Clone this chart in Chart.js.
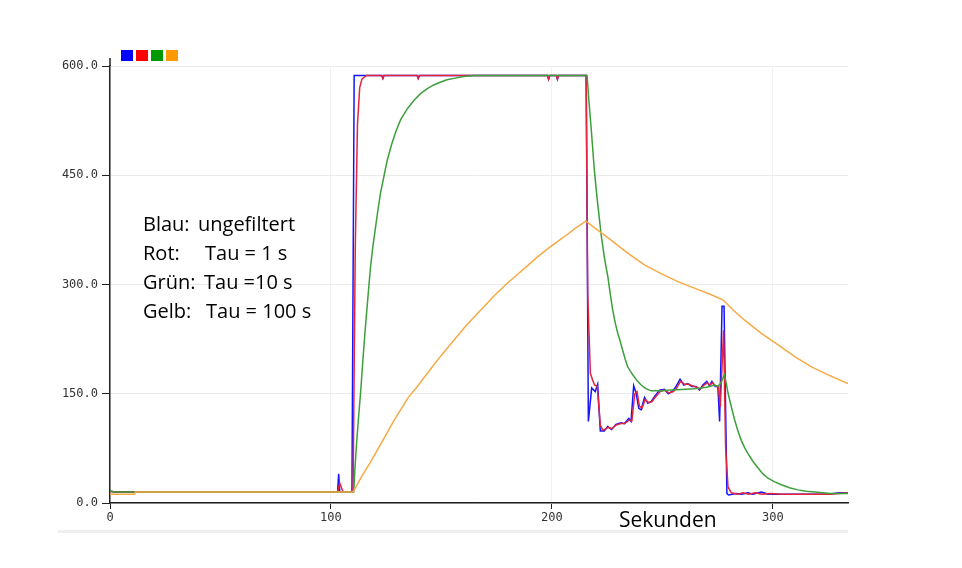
<!DOCTYPE html>
<html>
<head>
<meta charset="utf-8">
<script src="https://cdn.jsdelivr.net/npm/chart.js@4.4.1/dist/chart.umd.min.js"></script>
<style>
  html, body { margin: 0; padding: 0; background: #fff; }
  #wrap { position: relative; width: 962px; height: 568px; }
  #wrap canvas { position: absolute; left: 0; top: 0; }
  .note { position: absolute; font-family: "Open Sans", sans-serif; color: #000; white-space: nowrap; }
  .notes { left: 143px; top: 209px; font-size: 20px; line-height: 29px; }
  .notes div { position: relative; height: 29px; }
  .notes span.v { position: absolute; top: 0; }
  #xlabel { left: 619px; top: 505px; font-size: 21px; line-height: 28px; }
  #sep { position: absolute; left: 58px; top: 530px; width: 790px; height: 3px; background: #efefef; }
</style>
</head>
<body>
<div id="wrap">
  <div id="sep"></div>
  <canvas id="filterChart" width="962" height="568"></canvas>
  <div class="note notes"><div>Blau:<span class="v" style="left:55px">ungefiltert</span></div><div>Rot:<span class="v" style="left:62px">Tau = 1 s</span></div><div>Grün:<span class="v" style="left:61px">Tau =10 s</span></div><div>Gelb:<span class="v" style="left:63px">Tau = 100 s</span></div></div>
  <div class="note" id="xlabel">Sekunden</div>
</div>
<script>
// zeit in sekunden
const blauT = [0, 2, 103, 103.5, 104, 109.5, 110.5, 123, 123.5, 124, 139, 139.5, 140, 198, 198.5, 199, 202, 202.5, 203,
  215.5, 216.5, 218, 219.6, 220.7, 221.9, 223.7, 225.2, 227, 229, 231.3, 232.8, 234.8, 235.8, 237, 238.1, 239.3, 240.4,
  241.9, 243.4, 244.9, 246.4, 248.7, 250.9, 252.7, 254.7, 256.2, 258, 259.7, 261.5, 263.3, 265.3, 266.8, 268.3, 270.1,
  271.3, 272.4, 273.9, 275.1, 275.9, 277, 277.9, 279.2, 280, 283.4, 286, 288.7, 291, 294.8, 298, 303.9, 310, 319, 325, 330, 334];
const blauV = [16, 15, 15, 40, 15, 15, 587, 587, 583, 587, 587, 583, 587, 587, 582, 587, 587, 582, 587,
  587, 112, 158, 153, 163, 99, 99, 105, 101, 108, 110, 109, 116, 112, 161, 151, 130, 128,
  145, 137, 139, 146, 155, 156, 150, 154, 160, 170, 162, 164, 160, 160, 155, 162, 167,
  161, 167, 160, 160, 112, 270, 270, 13, 11, 13, 12, 14, 12, 15, 12, 12, 12, 12, 12, 14, 14];

const rotT = [0, 2, 103, 104, 105.5, 110, 111, 112, 113, 114, 116, 123, 123.5, 124, 139, 139.5, 140, 198, 198.5, 199,
  202, 202.5, 203, 215.5, 216.2, 217.4, 218.4, 219.3, 220.5, 221.9, 223, 224, 225.5, 227, 229, 231.3, 233, 235, 236.2,
  237.5, 238.5, 239.6, 240.8, 242.2, 243.7, 245.2, 246.7, 249, 251, 253, 255, 256.5, 258.2, 260, 261.8, 263.5, 265.5,
  267, 268.5, 270.3, 271.5, 272.6, 274, 275.3, 276.2, 277.7, 278.6, 279.7, 281.2, 284, 286.5, 289, 292, 295, 299, 304,
  312, 320, 326, 330, 334];
const rotV = [16, 15, 15, 27, 15, 15, 350, 520, 570, 582, 587, 587, 583, 587, 587, 583, 587, 587, 582, 587,
  587, 582, 587, 587, 288, 178, 169, 162, 160, 107, 100, 101, 104, 102, 107, 109, 109, 114, 113,
  150, 153, 133, 130, 142, 138, 139, 145, 153, 155, 151, 153, 158, 167, 163, 163, 161, 159,
  156, 161, 165, 162, 165, 161, 160, 132, 237, 77, 22, 14, 12, 14, 12, 14, 12, 13, 12,
  12, 12, 12, 13, 14];

const gruenT = [0, 2, 110.3, 110.8, 111.6, 112.5, 113.4, 114.5, 115.6, 116.8, 117.9, 119, 120.2, 121.3, 122.4, 124,
  125.5, 127.5, 129.5, 131.5, 134.5, 137.6, 140.5, 143.6, 146.5, 149.7, 152.5, 155.7, 160, 165.5,
  215.9, 216.8, 217.7, 218.5, 219.2, 220, 220.7, 221.5, 222.2, 223, 223.7, 224.5, 225.3, 226.4, 227.5, 228.6,
  229.8, 231, 232, 233.2, 234.3, 235.5, 236.6, 238.5, 240.4, 242.5, 244.9, 249.4, 254, 258.5, 264.5, 270,
  273.6, 275, 276.3, 278.1, 279, 279.7, 281.2, 282.7, 284.2, 285.7, 287.2, 288.7, 291, 293.3, 295.5, 297.8,
  300.8, 303.9, 307.5, 311.4, 315, 319, 326, 334];
const gruenV = [17, 15, 15, 45, 82, 118, 151, 198, 242, 285, 324, 353, 379, 403, 425, 449,
  471, 493, 511, 526, 541, 553, 562, 569, 574, 578, 581, 583, 585.5, 587,
  587, 550, 517, 485, 457, 432, 411, 390, 370, 353, 338, 324, 311, 287, 265, 248,
  233, 221, 210, 197, 187, 181, 176, 168, 162, 157, 154, 154, 155, 156, 157, 159,
  162, 160, 164, 176, 163, 151, 132, 114, 99, 86, 76, 68, 57, 48, 40, 34,
  29, 25, 21, 18, 16, 15, 13, 13];

const gelbT = [0, 11, 11.5, 110, 114, 117.9, 122.4, 125.5, 128.5, 131.5, 135, 139.1, 145.1, 150, 155, 161, 167.8,
  174, 179.9, 184.5, 189, 193.5, 198, 202.5, 207.1, 211, 215.4, 221, 226.8, 234.3, 241.9, 249.4, 257, 264.5,
  272.1, 277.4, 282, 287.2, 294.8, 302.4, 309.9, 317.5, 325, 334];
const gelbV = [12, 12, 15, 15, 37, 56, 80, 97, 113, 128, 145, 160, 184, 203, 221, 243, 265,
  285, 302, 314, 326, 338, 349, 359, 369, 378, 387, 374, 361, 343, 327, 315, 304, 295,
  286, 279, 265, 251, 233, 217, 201, 187, 176, 164];

const yTicks = [0, 150, 300, 450, 600];
const xTicks = [0, 100, 200, 300];

function pts(t, v){
    return t.map((x, i) => ({x: x, y: v[i]}));
}

// kleine farbige Kaestchen oben links statt der normalen Legende
const boxLegend = {
    id: 'boxLegend',
    afterDraw(chart){
        const ctx = chart.ctx;
        const ca = chart.chartArea;
        ctx.save();
        chart.data.datasets.forEach((ds, i) => {
            ctx.fillStyle = ds.backgroundColor;
            ctx.fillRect(ca.left + 11 + i * 15, ca.top - 16, 12, 11);
        });
        // y-Achse ragt etwas ueber die Flaeche hinaus
        ctx.strokeStyle = '#222';
        ctx.lineWidth = 1.5;
        ctx.beginPath();
        ctx.moveTo(ca.left, ca.top - 8);
        ctx.lineTo(ca.left, ca.top);
        ctx.stroke();
        ctx.restore();
    }
};

const ctx = document.getElementById('filterChart');
new Chart(ctx, {
    type: 'line',
    data: {
        datasets: [
        {
            label: 'Blau',
            data: pts(blauT, blauV),
            borderColor: '#1414ff',
            backgroundColor: '#0000ff',
            borderWidth: 1.5,
            pointRadius: 0,
            order: 4,
        },
        {
            label: 'Rot',
            data: pts(rotT, rotV),
            borderColor: '#e4243c',
            backgroundColor: '#ff0000',
            borderWidth: 1.5,
            pointRadius: 0,
            order: 3,
        },
        {
            label: 'Grün',
            data: pts(gruenT, gruenV),
            borderColor: '#3c9f3c',
            backgroundColor: '#009900',
            borderWidth: 1.5,
            pointRadius: 0,
            order: 2,
        },
        {
            label: 'Gelb',
            data: pts(gelbT, gelbV),
            borderColor: '#f5aa45',
            backgroundColor: '#ff9900',
            borderWidth: 1.5,
            pointRadius: 0,
            order: 1,
        }
        ]
    },
    options: {
        responsive: false,
        animation: false,
        layout: {
            padding: {left: 0, right: 114, top: 66, bottom: 0}
        },
        scales: {
            x: {
                type: 'linear',
                min: 0,
                max: 334,
                afterBuildTicks: s => { s.ticks = xTicks.map(v => ({value: v})); },
                afterFit: s => { s.height = 65; },
                border: {color: '#222', width: 1.5},
                grid: {color: '#f1f1f1', tickColor: '#222', tickLength: 6, lineWidth: 1},
                ticks: {
                    padding: 2,
                    maxRotation: 0,
                    color: '#333',
                    font: {family: 'DejaVu Sans Mono', size: 12},
                    callback: v => String(v)
                }
            },
            y: {
                min: 0,
                max: 600,
                afterBuildTicks: s => { s.ticks = yTicks.map(v => ({value: v})); },
                afterFit: s => { s.width = 110; },
                border: {color: '#222', width: 1.5},
                grid: {color: '#ebebeb', tickColor: '#222', tickLength: 8, lineWidth: 1},
                ticks: {
                    padding: 4,
                    color: '#333',
                    font: {family: 'DejaVu Sans Mono', size: 12},
                    callback: v => v.toFixed(1)
                }
            }
        },
        plugins: {
            legend: {display: false},
            tooltip: {enabled: false}
        }
    },
    plugins: [boxLegend]
});
</script>
</body>
</html>
